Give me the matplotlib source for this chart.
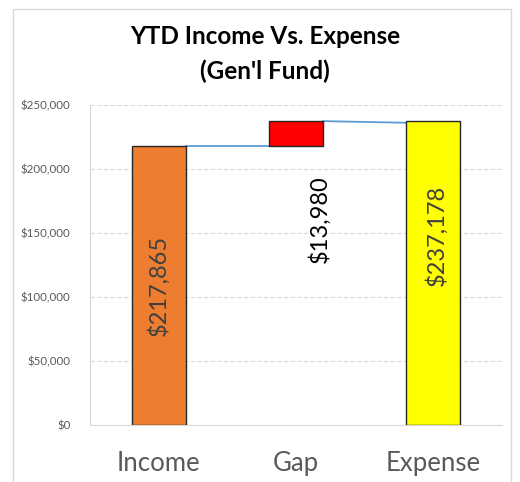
import matplotlib.pyplot as plt
from matplotlib.patches import Rectangle
from matplotlib.ticker import FuncFormatter

# data
categories = ["Income", "Gap", "Expense"]
income = 217865
expense = 237178
bar_bottoms = [0, income, 0]
bar_tops = [income, expense, expense]
bar_colors = ["#ED7D31", "#FF0000", "#FFFF00"]
bar_labels = ["$217,865", "$13,980", "$237,178"]
label_y = [108932, 160500, 148000]
label_dx = [0.0, 0.17, 0.02]
connector_1 = [income, income]
connector_2 = [expense, 235900]
yticks = [0, 50000, 100000, 150000, 200000, 250000]

plt.rcParams['font.family'] = ['Lato', 'DejaVu Sans']

fig = plt.figure(figsize=(5.2, 4.82), dpi=100)
# outer chart frame
fig.patches.append(Rectangle((13 / 520, -0.01), 498 / 520, 1 - 9 / 482 + 0.01,
                             transform=fig.transFigure, fill=False,
                             edgecolor="#D9D9D9", linewidth=1))

ax = fig.add_axes([90 / 520, 57 / 482, 412 / 520, 320.3 / 482])

x = list(range(len(categories)))
w = 0.395
heights = [t - b for t, b in zip(bar_tops, bar_bottoms)]
ax.bar(x, heights, bottom=bar_bottoms, width=w, color=bar_colors,
       edgecolor="#262626", linewidth=1, zorder=3)

# connector lines
ax.plot([x[0] + w / 2, x[1] - w / 2 + 0.02], connector_1, color="#5B9BD5", lw=1.3, zorder=2)
ax.plot([x[1] + w / 2, x[2] - w / 2], connector_2, color="#5B9BD5", lw=1.3, zorder=2)

for i, (lab, ly, dx) in enumerate(zip(bar_labels, label_y, label_dx)):
    ax.text(x[i] + dx, ly, lab, rotation=90, ha="center", va="center",
            fontsize=17, color="#404040" if i != 1 else "#000000", zorder=4)

ax.set_xlim(-0.5, 2.5)
ax.set_ylim(0, 250000)
ax.set_yticks(yticks)
ax.yaxis.set_major_formatter(FuncFormatter(lambda v, p: "${:,.0f}".format(v)))
ax.set_xticks(x)
ax.set_xticklabels(categories, fontsize=18.5, color="#595959")
ax.tick_params(axis="y", labelsize=8.3, colors="#595959", length=0, pad=14)
ax.tick_params(axis="x", length=0, pad=19)
ax.grid(axis="y", color="#D9D9D9", linestyle=(0, (4, 2)), linewidth=0.8, zorder=0)
for s in ["top", "right"]:
    ax.spines[s].set_visible(False)
for s in ["left", "bottom"]:
    ax.spines[s].set_color("#D9D9D9")

fig.text(265 / 520, 1 - 37 / 482, "YTD Income Vs. Expense", ha="center", va="center",
         fontsize=17.5, fontweight="bold", color="#000000")
fig.text(265 / 520, 1 - 71 / 482, "(Gen'l Fund)", ha="center", va="center",
         fontsize=17.5, fontweight="bold", color="#000000")

fig.savefig("out.png", dpi=100)
